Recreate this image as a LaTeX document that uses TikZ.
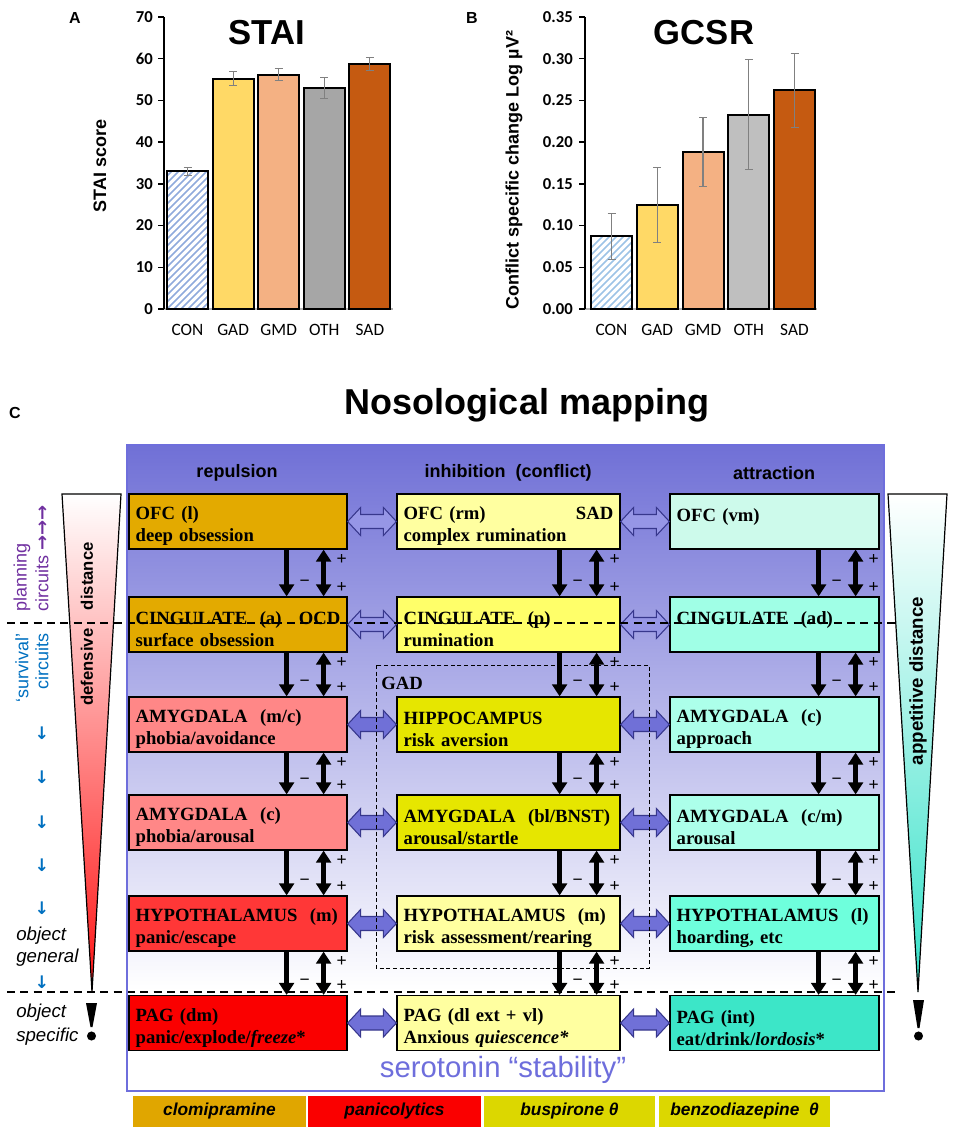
\documentclass[tikz,border=0pt]{standalone}
\usepackage{fontspec}
\setmainfont{Liberation Serif}
\setsansfont{Liberation Sans}
\newfontfamily\calibri{Carlito}
\newfontfamily\arrowfont{DejaVu Sans}
\usetikzlibrary{calc,arrows.meta}

\definecolor{gadcol}{RGB}{255,217,102}
\definecolor{gmdcol}{RGB}{244,177,131}
\definecolor{othAcol}{RGB}{166,166,166}
\definecolor{othBcol}{RGB}{191,191,191}
\definecolor{sadcol}{RGB}{197,90,17}
\definecolor{hatchA}{RGB}{143,170,220}
\definecolor{hatchB}{RGB}{157,195,230}
\definecolor{bgtop}{RGB}{112,112,214}
\definecolor{bgmid}{RGB}{168,168,234}
\definecolor{frameblue}{RGB}{110,110,220}
\definecolor{clomi}{RGB}{227,170,0}
\definecolor{amyred}{RGB}{255,135,135}
\definecolor{hypred}{RGB}{255,55,55}
\definecolor{pagred}{RGB}{250,0,0}
\definecolor{ofcyel}{RGB}{255,255,160}
\definecolor{cingyel}{RGB}{255,255,105}
\definecolor{gadyel}{RGB}{230,230,0}
\definecolor{ofcmint}{RGB}{205,250,235}
\definecolor{cingmint}{RGB}{160,255,230}
\definecolor{amymint}{RGB}{172,255,234}
\definecolor{hypmint}{RGB}{110,255,220}
\definecolor{pagmint}{RGB}{60,230,200}
\definecolor{legclomi}{RGB}{224,166,0}
\definecolor{legyel}{RGB}{220,215,0}
\definecolor{arrowfill}{RGB}{112,112,215}
\definecolor{hollowfill}{RGB}{150,150,230}
\definecolor{arrowline}{RGB}{55,55,140}
\definecolor{planpurple}{RGB}{112,48,160}
\definecolor{survblue}{RGB}{0,112,192}
\definecolor{trired}{RGB}{255,20,20}
\definecolor{triteal}{RGB}{50,225,200}

\begin{document}
\begin{tikzpicture}[x=0.75pt, y=-0.75pt,
    panellab/.style={font=\sffamily\bfseries\fontsize{12}{14}\selectfont},
    charttitle/.style={font=\sffamily\bfseries\fontsize{26}{30}\selectfont},
    axislab/.style={font=\sffamily\bfseries\fontsize{13.5}{16}\selectfont},
    ticklab/.style={anchor=east, inner sep=0pt, font=\calibri\bfseries\fontsize{12.5}{15}\selectfont},
    catlab/.style={font=\calibri\fontsize{13}{15}\selectfont},
    barbox/.style={draw=black, line width=1.5pt},
    errbar/.style={draw=gray, line width=0.8pt},
    region/.style={draw, line width=0.9pt, minimum height=41.25pt, inner xsep=5pt, inner ysep=0pt,
      align=left, font=\bfseries\fontsize{14}{16.5}\selectfont,
      execute at begin node={\rule{0pt}{17pt}}},
    colL/.style={region, minimum width=163.5pt, text width=153.5pt},
    colM/.style={region, minimum width=167.25pt, text width=157.25pt},
    colR/.style={region, minimum width=156.75pt, text width=146.75pt},
    colhead/.style={font=\sffamily\bfseries\fontsize{13.5}{16}\selectfont},
    signlab/.style={inner sep=0pt, font=\sffamily\fontsize{13}{15}\selectfont},
    downarr/.style={line width=3.5pt, -{Triangle[length=9pt,width=11pt]}},
    twoarr/.style={line width=3.5pt, {Triangle[length=9pt,width=11pt]}-{Triangle[length=9pt,width=11pt]}},
    hollowarr/.style={draw=arrowline, fill=hollowfill, line width=0.8pt},
    solidarr/.style={draw=arrowline, fill=arrowfill, line width=0.8pt},
    sepline/.style={line width=0.9pt, dash pattern=on 6pt off 4pt},
    gadline/.style={line width=0.75pt, dash pattern=on 3pt off 2pt},
    purplab/.style={text=planpurple, inner sep=0pt, font=\sffamily\fontsize{13.5}{15}\selectfont},
    bluelab/.style={text=survblue, inner sep=0pt, font=\sffamily\fontsize{13.5}{15}\selectfont},
    bluearr/.style={text=survblue, font=\arrowfont\bfseries\fontsize{13}{15}\selectfont},
    objlab/.style={anchor=west, inner sep=0pt, font=\sffamily\itshape\fontsize{14}{16}\selectfont},
    distlab/.style={rotate=90, font=\sffamily\bfseries\fontsize{12.5}{15}\selectfont},
    drugbox/.style={minimum height=23.25pt, inner sep=0pt, font=\sffamily\bfseries\itshape\fontsize{13}{15}\selectfont}]
\useasboundingbox (0,0) rectangle (957,1131);

% ---------------- A: STAI
\node[panellab] (labA) at (75,18) {A};
\node[charttitle] (titA) at (267,33) {STAI};
\node[axislab, rotate=90] (ylabA) at (100,166) {STAI score};
\draw[gray!60, line width=0.8pt] (160,309) -- (393,309);
\foreach \v in {0,10,...,70}{
  \draw[line width=1pt] (158,{309-4.1714*\v}) -- (164,{309-4.1714*\v});
  \node[ticklab] (tA\v) at (153,{309-4.1714*\v}) {\v};
}
\draw[line width=1.5pt] (164,17) -- (164,309);
\begin{scope}
  \clip (167,309) rectangle (208,{309-4.1714*33});
  \foreach \k in {0,...,27}
    \draw[hatchA, line width=1.1pt] ({27+7*\k},309) -- ++(140,-140);
\end{scope}
\foreach \v/\e/\c [count=\i from 0] in {33/1/none, 55.2/1.7/gadcol, 56.2/1.5/gmdcol, 53/2.5/othAcol, 58.8/1.6/sadcol}{
  \draw[barbox, fill=\c] ({167+45.6*\i},309) rectangle ({208+45.6*\i},{309-4.1714*\v});
  \draw[errbar] ({183.5+45.6*\i},{309-4.1714*(\v-\e)}) -- ++(8,0) ++(-4,0)
    -- ({187.5+45.6*\i},{309-4.1714*(\v+\e)}) ++(-4,0) -- ++(8,0);
}
\foreach \t [count=\i from 0] in {CON,GAD,GMD,OTH,SAD}
  \node[catlab] (xA\i) at ({187.5+45.6*\i},330) {\t};

% ---------------- B: GCSR
\node[panellab] (labB) at (472,18) {B};
\node[charttitle] (titB) at (704,33) {GCSR};
\node[axislab, rotate=90] (ylabB) at (514,170) {Conflict specific change Log µV²};
\draw[gray!60, line width=0.8pt] (581,309) -- (817,309);
\foreach \v/\t in {0/0.00, 0.05/0.05, 0.1/0.10, 0.15/0.15, 0.2/0.20, 0.25/0.25, 0.3/0.30, 0.35/0.35}{
  \draw[line width=1pt] (579,{309-834.29*\v}) -- (585,{309-834.29*\v});
  \node[ticklab] (tB\t) at (573,{309-834.29*\v}) {\t};
}
\draw[line width=1.5pt] (585,17) -- (585,309);
\begin{scope}
  \clip (591,309) rectangle (632,{309-834.29*0.087});
  \foreach \k in {0,...,16}
    \draw[hatchB, line width=1.1pt] ({530+7*\k},309) -- ++(80,-80);
\end{scope}
\foreach \v/\e/\c [count=\i from 0] in {0.087/0.028/none, 0.125/0.045/gadcol, 0.188/0.0415/gmdcol, 0.233/0.0655/othBcol, 0.262/0.0445/sadcol}{
  \draw[barbox, fill=\c] ({591+45.75*\i},309) rectangle ({632+45.75*\i},{309-834.29*\v});
  \draw[errbar] ({607.5+45.75*\i},{309-834.29*(\v-\e)}) -- ++(8,0) ++(-4,0)
    -- ({611.5+45.75*\i},{309-834.29*(\v+\e)}) ++(-4,0) -- ++(8,0);
}
\foreach \t [count=\i from 0] in {CON,GAD,GMD,OTH,SAD}
  \node[catlab] (xB\i) at ({611.5+45.75*\i},330) {\t};

% ---------------- C: nosological mapping
\node[panellab] (labC) at (15,413) {C};
\node[font=\sffamily\bfseries\fontsize{27}{32}\selectfont] (titC) at (527,405) {Nosological mapping};

\shade[top color=bgtop, middle color=bgmid, bottom color=white] (127,445) rectangle (884,990);

% distance wedges
\shade[top color=white, bottom color=trired] (62,494) -- (121,494) -- (92,992) -- cycle;
\draw[line width=0.9pt] (62,494) -- (121,494) -- (92,992) -- cycle;
\shade[top color=white, bottom color=triteal] (888,494) -- (947,494) -- (918,992) -- cycle;
\draw[line width=0.9pt] (888,494) -- (947,494) -- (918,992) -- cycle;
\node[distlab] (defd) at (87,624) {defensive\hspace{14pt}distance};
\node[distlab, font=\sffamily\bfseries\fontsize{14}{16}\selectfont] (appd) at (918,681) {appetitive distance};
\fill (86,1003) -- (97,1003) -- (92.5,1027) -- (90.5,1027) -- cycle;
\fill (91.5,1036) circle[radius=3.4pt];
\fill (913,1000) -- (924,1000) -- (919.5,1028) -- (917.5,1028) -- cycle;
\fill (918.5,1036) circle[radius=3.4pt];

% column heads
\node[colhead] (hrep) at (237,473) {repulsion};
\node[colhead] (hinh) at (508,473) {inhibition~~(conflict)};
\node[colhead] (hatt) at (774,473) {attraction};

% repulsion
\node[colL, fill=clomi]  (L1) at (238,521.5)  {OFC (l)\\deep obsession};
\node[colL, fill=clomi]  (L2) at (238,624.5)  {CINGULATE~~(a)\hfill OCD\\surface obsession};
\node[colL, fill=amyred] (L3) at (238,724.5)  {AMYGDALA~~(m/c)\\phobia/avoidance};
\node[colL, fill=amyred] (L4) at (238,822.5)  {AMYGDALA~~(c)\\phobia/arousal};
\node[colL, fill=hypred] (L5) at (238,923.5)  {HYPOTHALAMUS~~(m)\\panic/escape};
\node[colL, fill=pagred] (L6) at (238,1023)   {PAG (dm)\\panic/explode/\textit{freeze}*};
% inhibition
\node[colM, fill=ofcyel]  (M1) at (508.5,521.5) {OFC (rm)\hfill SAD\\complex rumination};
\node[colM, fill=cingyel] (M2) at (508.5,624.5) {CINGULATE~~(p)\\rumination};
\node[colM, fill=gadyel]  (M3) at (508.5,724.5) {HIPPOCAMPUS\\risk aversion};
\node[colM, fill=gadyel]  (M4) at (508.5,822.5) {AMYGDALA~~(bl/BNST)\\arousal/startle};
\node[colM, fill=ofcyel]  (M5) at (508.5,923.5) {HYPOTHALAMUS~~(m)\\risk assessment/rearing};
\node[colM, fill=ofcyel]  (M6) at (508.5,1023)  {PAG (dl ext + vl)\\Anxious \textit{quiescence*}};
% attraction
\node[colR, fill=ofcmint]  (R1) at (774.5,521.5) {OFC (vm)\\\phantom{x}};
\node[colR, fill=cingmint] (R2) at (774.5,624.5) {CINGULATE~~(ad)\\\phantom{x}};
\node[colR, fill=amymint]  (R3) at (774.5,724.5) {AMYGDALA~~(c)\\approach};
\node[colR, fill=amymint]  (R4) at (774.5,822.5) {AMYGDALA~~(c/m)\\arousal};
\node[colR, fill=hypmint]  (R5) at (774.5,923.5) {HYPOTHALAMUS~~(l)\\hoarding, etc};
\node[colR, fill=pagmint]  (R6) at (774.5,1023)  {PAG (int)\\eat/drink/\textit{lordosis}*};

% descending and reciprocal links
\foreach \c in {L,M,R}{
  \foreach \r [count=\n from 2] in {1,...,5}{
    \draw[downarr] ($(\c\r.south east)+(-61,0)$) -- ($(\c\n.north east)+(-61,0)$);
    \draw[twoarr]  ($(\c\r.south east)+(-24,0)$) -- ($(\c\n.north east)+(-24,0)$);
    \node[signlab] (mi\c\r) at ($(\c\n.north east)+(-43,-13)$) {−};
    \node[signlab] (pa\c\r) at ($(\c\r.south east)+(-6,10)$) {+};
    \node[signlab] (pb\c\r) at ($(\c\n.north east)+(-6,-9)$) {+};
  }
}

% lateral links
\foreach \r in {1,2}{
  \foreach \a/\b in {L/M, M/R}
    \draw[hollowarr] (\a\r.east) -- ++(13,-14) -- ++(0,7) -- ($(\b\r.west)+(-13,-7)$) -- ++(0,-7)
      -- (\b\r.west) -- ++(-13,14) -- ++(0,-7) -- ($(\a\r.east)+(13,7)$) -- ++(0,7) -- cycle;
}
\foreach \r in {3,...,6}{
  \foreach \a/\b in {L/M, M/R}
    \draw[solidarr] (\a\r.east) -- ++(13,-14) -- ++(0,7) -- ($(\b\r.west)+(-13,-7)$) -- ++(0,-7)
      -- (\b\r.west) -- ++(-13,14) -- ++(0,-7) -- ($(\a\r.east)+(13,7)$) -- ++(0,7) -- cycle;
}

% GAD region and level separators
\draw[gadline] (376,665) rectangle (649,968);
\node[anchor=west, inner sep=0pt, font=\bfseries\fontsize{14}{16}\selectfont] (gad) at (381,683) {GAD};
\draw[sepline] (7,623) -- (897,623);
\draw[sepline] (7,992) -- (900,992);
\draw[frameblue, line width=1.5pt] (127,445) rectangle (884,1091);
\node[text=frameblue, font=\sffamily\fontsize{22}{26}\selectfont] (sero) at (503,1070) {serotonin “stability”};

% left side labels
\node[purplab, rotate=90, anchor=west] (plan1) at (22,612) {planning};
\node[purplab, rotate=90, anchor=west] (plan2) at (42,612) {circuits {\arrowfont\bfseries →→→}};
\node[bluelab, rotate=90, anchor=east] (surv1) at (22,633) {‘survival’};
\node[bluelab, rotate=90, anchor=east] (surv2) at (42,633) {circuits};
\foreach \y [count=\i] in {733,777,822,865,908,982}
  \node[bluearr] (sdn\i) at (42,\y) {↓};
\node[objlab] (objg1) at (16,936) {object};
\node[objlab] (objg2) at (16,958) {general};
\node[objlab] (objs1) at (16,1013) {object};
\node[objlab] (objs2) at (16,1037) {specific};

% drug legend
\node[drugbox, fill=legclomi, minimum width=129.75pt] (clomi) at (219.5,1111.5) {clomipramine};
\node[drugbox, fill=pagred, minimum width=129.75pt] (panic) at (394.5,1111.5) {panicolytics};
\node[drugbox, fill=legyel, minimum width=128.25pt] (buspi) at (569.5,1111.5) {buspirone θ};
\node[drugbox, fill=legyel, minimum width=128.25pt] (benzo) at (744.5,1111.5) {benzodiazepine~~θ};
\end{tikzpicture}
\end{document}
